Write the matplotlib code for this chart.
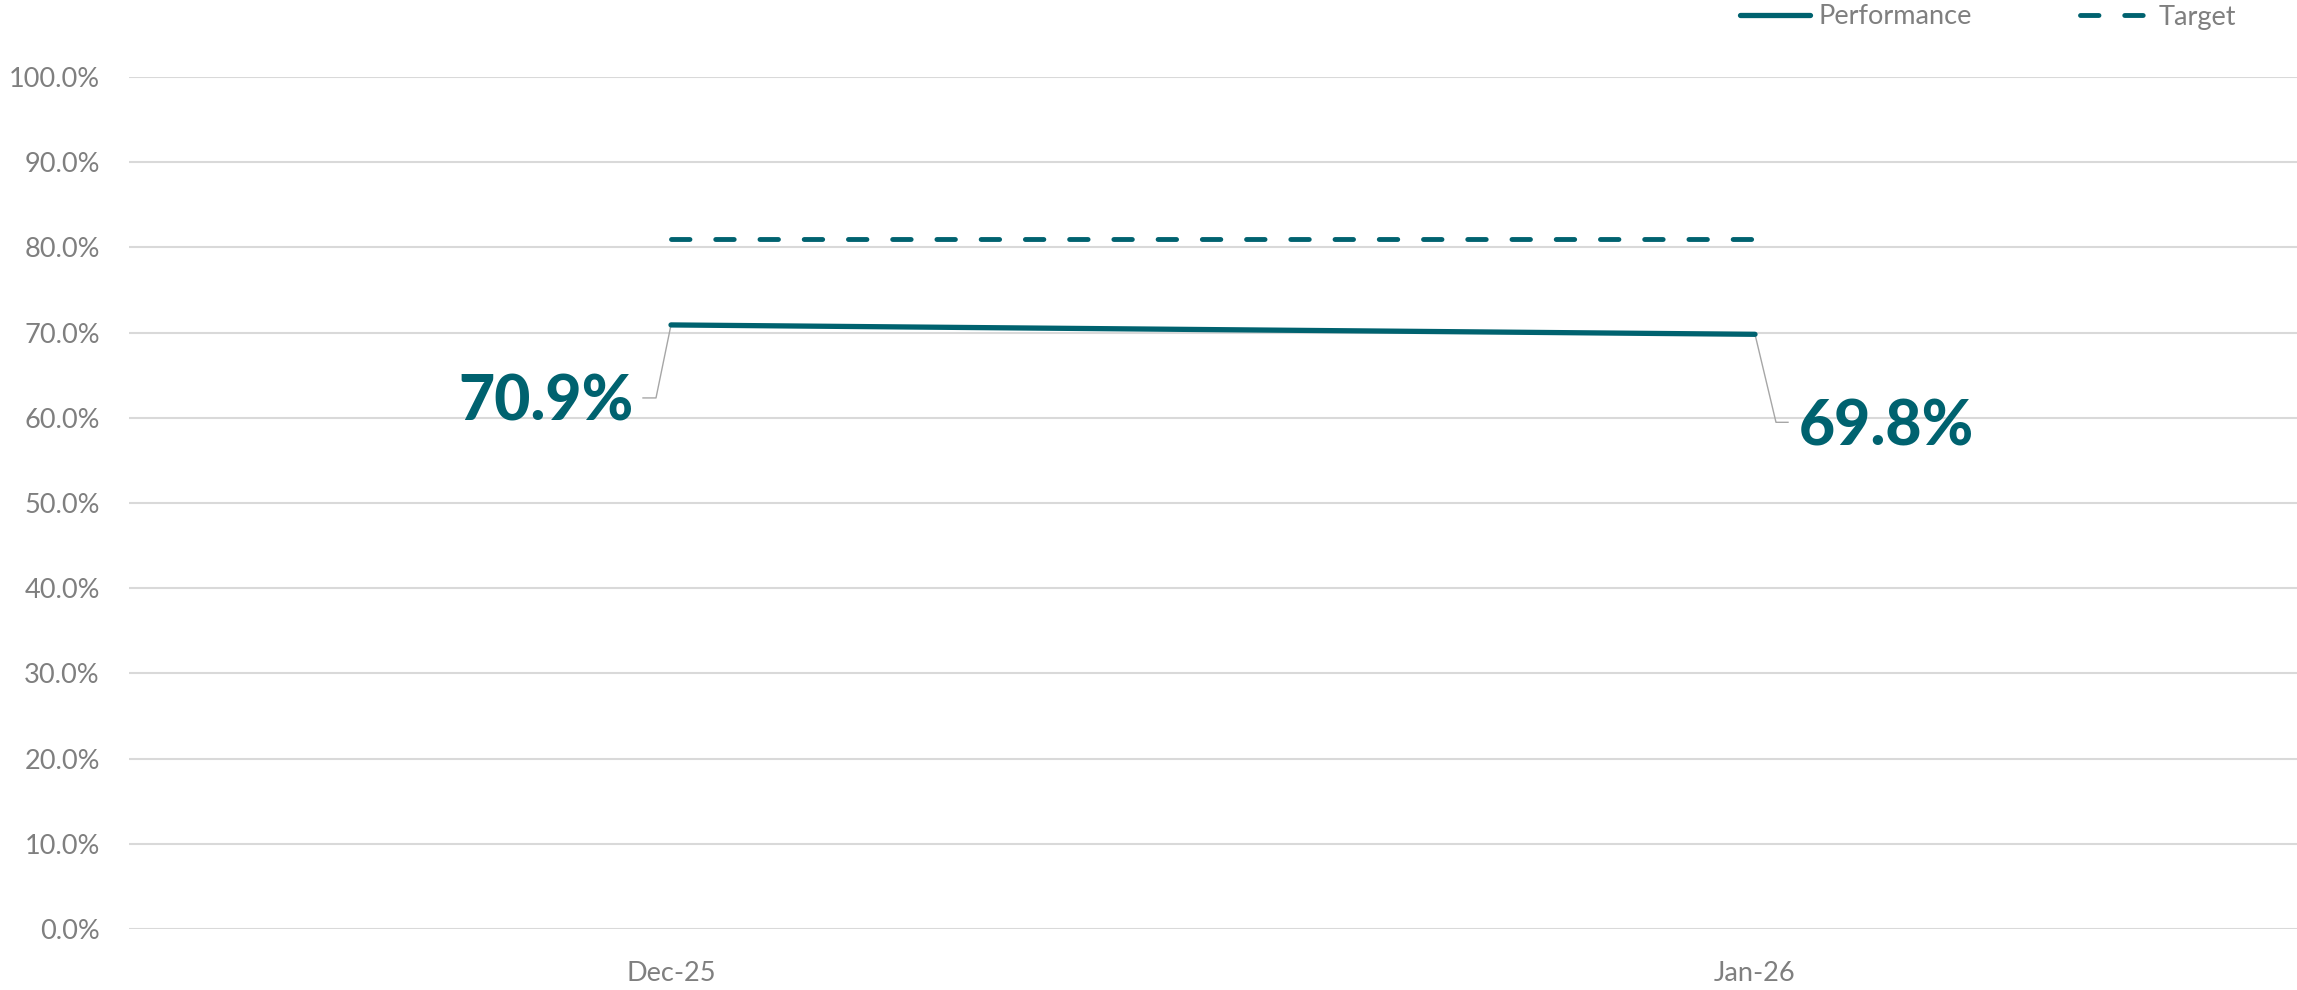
import matplotlib
matplotlib.use("Agg")
import matplotlib.pyplot as plt
from matplotlib.transforms import IdentityTransform
from matplotlib.ticker import PercentFormatter

months = ["Dec-25", "Jan-26"]
performance = [70.9, 69.8]
target = [81.0, 81.0]
yticks = [0, 10, 20, 30, 40, 50, 60, 70, 80, 90, 100]

teal = "#00626F"
grey_text = "#7F7F7F"
grid_col = "#D9D9D9"

plt.rcParams["font.family"] = ["Lato", "DejaVu Sans"]

fig = plt.figure(figsize=(22.97, 9.9), dpi=100)
ax = fig.add_axes([129 / 2297, 1 - 929 / 990, 1 - 129 / 2297, (929 - 77) / 990])

x = list(range(len(months)))
ax.plot(x, performance, color=teal, lw=3.8, solid_capstyle="round", label="Performance", zorder=3)
ax.plot(x, target, color=teal, lw=3.5, dashes=(3.8, 5.3), dash_capstyle="round", label="Target", zorder=3)

ax.set_xlim(-0.5, len(months) - 0.5)
ax.set_ylim(0, 100)
ax.set_yticks(yticks)
ax.yaxis.set_major_formatter(PercentFormatter(decimals=1))
ax.set_xticks(x)
ax.set_xticklabels(months)
ax.grid(axis="y", color=grid_col, lw=1.5)
ax.set_axisbelow(True)
for s in ax.spines.values():
    s.set_visible(False)
ax.tick_params(axis="both", length=0, colors=grey_text, labelsize=19.5)
ax.tick_params(axis="y", pad=21)
ax.tick_params(axis="x", pad=23)

# data labels with elbow leader lines (offsets in pixels)
label_style = [
    # leader pts, text offset, ha
    ([(0, 0), (-15, -73), (-28, -73)], (-37, -78), "right"),
    ([(0, 0), (21, -88), (33, -88)], (44, -93), "left"),
]
for xi, val, (leader, toff, ha) in zip(x, performance, label_style):
    px, py = ax.transData.transform((xi, val))
    ax.plot([px + dx for dx, dy in leader], [py + dy for dx, dy in leader],
            transform=IdentityTransform(), color="#A6A6A6", lw=1.0, zorder=2)
    ax.text(px + toff[0], py + toff[1], f"{val:.1f}%", transform=IdentityTransform(),
            ha=ha, va="center", fontsize=45, fontweight="black", color=teal)

leg = fig.legend(loc="center right", bbox_to_anchor=(2236 / 2297, 1 - 17 / 990), ncol=2,
                 frameon=False, fontsize=19.5, handlelength=2.6, handletextpad=0.3,
                 columnspacing=4.0, borderaxespad=0, borderpad=0)
for t in leg.get_texts():
    t.set_color(grey_text)

fig.savefig("out.png", dpi=100)
